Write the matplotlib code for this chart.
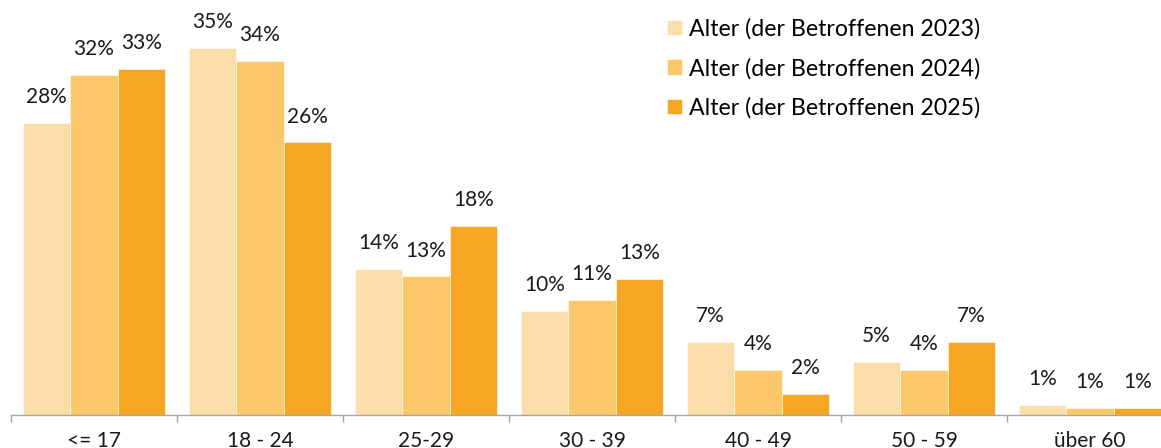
import matplotlib.pyplot as plt
import numpy as np

plt.rcParams['font.family'] = ['Lato', 'DejaVu Sans']

categories = ['<= 17', '18 - 24', '25-29', '30 - 39', '40 - 49', '50 - 59', 'über 60']
series_names = ['Alter (der Betroffenen 2023)', 'Alter (der Betroffenen 2024)',
                'Alter (der Betroffenen 2025)']
values_2023 = [27.9, 35.0, 13.9, 9.9, 6.9, 5.0, 0.9]
values_2024 = [32.4, 33.8, 13.2, 11.0, 4.3, 4.3, 0.6]
values_2025 = [33.0, 26.0, 18.0, 13.0, 2.0, 6.9, 0.6]
colors = ['#FBDDA9', '#FDC86A', '#F6A623']

W, H = 1161, 448
fig = plt.figure(figsize=(W / 100, H / 100), dpi=100)
# axes run a bit past the right edge, like the original
ax = fig.add_axes([11 / W, 33.3 / H, 1162 / W, 38 * 10.47 / H])

x = np.arange(len(categories))
bw = 0.286
all_vals = [values_2023, values_2024, values_2025]
for i, vals in enumerate(all_vals):
    bars = ax.bar(x + (i - 1) * bw, vals, bw, color=colors[i], label=series_names[i],
                  edgecolor='white', linewidth=0.4)
    for b, v in zip(bars, vals):
        ax.annotate(f'{v:.0f}%', (b.get_x() + b.get_width() / 2, v),
                    xytext=(0, 11.5), textcoords='offset points',
                    ha='center', va='bottom', fontsize=15, color='#1a1a1a')

ax.set_xlim(-0.5, len(categories) - 0.5)
ax.set_ylim(0, 38)
for s in ['top', 'right', 'left']:
    ax.spines[s].set_visible(False)
ax.spines['bottom'].set_color('#a6a6a6')
ax.spines['bottom'].set_linewidth(1)
ax.set_yticks([])

ax.set_xticks(x)
ax.set_xticklabels(categories, fontsize=15, color='#1a1a1a')
ax.tick_params(axis='x', which='major', length=0, pad=12)
ax.set_xticks(np.arange(len(categories) + 1) - 0.5, minor=True)
ax.tick_params(axis='x', which='minor', length=5, color='#a6a6a6', width=1)

ax.legend(loc='upper left', bbox_to_anchor=(667 / W, 1 - 18 / H),
          bbox_transform=fig.transFigure, frameon=False, fontsize=16.7,
          handlelength=0.65, handleheight=0.65, handletextpad=0.3,
          labelspacing=0.78, borderpad=0, borderaxespad=0)

fig.savefig('out.png', dpi=100)
